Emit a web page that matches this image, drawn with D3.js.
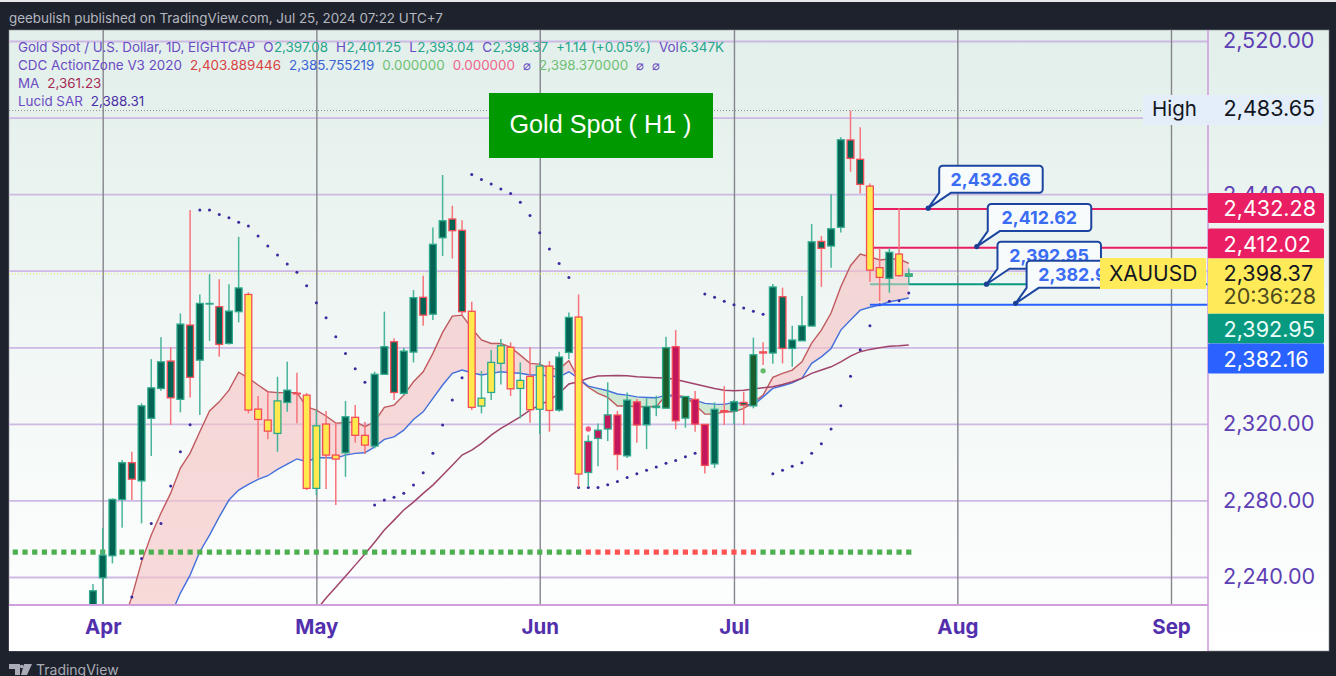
<!DOCTYPE html>
<html>
<head>
<meta charset="utf-8">
<title>Gold Spot</title>
<script src="https://cdn.jsdelivr.net/npm/d3@7"></script>
<style>
html, body { margin: 0; padding: 0; background: #1e222d; overflow: hidden; }
svg { display: block; font-family: Inter, "Noto Sans", sans-serif; }
</style>
</head>
<body>
<div id="chart"></div>
<script>
// bars run from firstBar (last days of March) to the Jul 24 bar
const firstBar = -1;
const opens = [2221.7,2239.6,2251.1,2280.5,2299.7,2290.2,2322.9,2338.5,2352.8,2332.8,2371.6,2353.3,2382.6,2381.2,2362.0,2378.6,
    2387.6,2327.7,2322.0,2315.0,2331.2,2336.0,2335.0,2286.3,2319.9,2303.7,2304.9,2323.4,2314.0,2308.4,2345.9,2362.9,
    2335.9,2357.5,2386.1,2377.3,2417.2,2427.0,2421.1,2378.8,2329.3,2336.4,2351.6,2360.0,2338.5,2344.8,2327.6,2350.2,
    2327.2,2357.3,2375.8,2294.6,2312.4,2317.3,2324.6,2303.3,2331.5,2319.5,2328.5,2328.2,2360.3,2323.0,2332.8,2319.7,
    2299.1,2326.9,2326.7,2331.2,2329.4,2357.6,2357.0,2386.4,2359.4,2363.4,2371.1,2415.3,2412.9,2422.7,2468.3,2458.2,
    2444.2,2401.6,2396.0,2408.7,2397.08];
const highs = [2236.3,2265.5,2281.1,2301.1,2305.4,2330.7,2353.8,2365.2,2360.0,2377.7,2431.7,2387.6,2398.2,2395.6,2392.9,2417.7,
    2388.7,2334.5,2336.8,2344.6,2352.4,2346.7,2336.1,2327.2,2326.7,2320.6,2332.0,2329.8,2321.1,2347.2,2378.6,2364.7,
    2359.8,2389.9,2397.4,2422.6,2450.0,2433.9,2426.4,2383.8,2347.6,2358.6,2364.3,2362.6,2352.1,2360.0,2352.1,2352.8,
    2357.7,2378.2,2387.6,2314.1,2320.2,2341.7,2326.8,2336.4,2333.0,2333.3,2334.7,2365.5,2369.0,2334.5,2337.1,2319.9,
    2331.2,2339.7,2332.4,2336.8,2365.0,2362.6,2393.0,2391.2,2371.2,2386.8,2424.4,2418.1,2439.9,2469.7,2483.65,2474.9,
    2445.6,2411.7,2411.7,2432.6,2401.25];
const lows = [2220.1,2212.2,2247.1,2265.7,2280.2,2268.0,2303.2,2337.3,2319.4,2326.0,2333.8,2324.6,2363.3,2355.0,2361.5,2373.0,
    2325.5,2291.8,2312.0,2305.4,2326.3,2320.3,2285.4,2282.8,2286.0,2277.6,2292.3,2310.1,2304.2,2307.2,2345.9,2332.4,
    2335.0,2352.1,2371.2,2374.2,2407.7,2406.4,2376.8,2327.2,2325.5,2332.4,2340.6,2334.5,2322.9,2320.6,2314.7,2315.9,
    2326.3,2353.9,2286.8,2287.1,2297.9,2311.0,2295.8,2302.1,2310.1,2306.8,2324.0,2328.2,2317.1,2318.0,2315.9,2294.1,
    2296.9,2319.4,2319.9,2319.4,2328.1,2350.7,2351.4,2351.6,2349.8,2363.4,2371.1,2391.6,2401.6,2420.0,2451.7,2440.4,
    2394.2,2384.1,2388.5,2396.9,2393.04];
const closes = [2232.8,2251.4,2280.5,2299.7,2291.1,2329.4,2338.8,2352.4,2333.6,2372.1,2344.3,2382.9,2382.9,2361.5,2378.9,2391.0,
    2327.2,2322.3,2316.2,2332.0,2337.6,2335.7,2286.3,2319.0,2303.7,2301.6,2323.7,2314.0,2308.9,2345.9,2360.3,2336.4,
    2358.0,2385.9,2376.8,2413.8,2426.1,2420.9,2378.6,2328.6,2333.4,2352.1,2360.8,2338.3,2342.7,2327.4,2350.2,2327.0,
    2354.9,2375.6,2293.8,2310.8,2316.7,2324.7,2304.0,2332.4,2319.4,2329.1,2329.3,2359.8,2321.6,2334.3,2319.9,2298.3,
    2327.6,2326.2,2331.5,2329.8,2356.1,2357.0,2391.5,2359.4,2363.8,2371.2,2415.1,2411.7,2421.9,2468.4,2458.7,2445.1,
    2400.3,2396.5,2409.6,2397.4,2398.37];
// action zone per bar: d teal, y yellow, c crimson, f forest, g light green
const zones = 'dddddddddddddddd yyyy dd yyyy d yy dddddddddd yyyyyyyyy dd y cccc d c dd f c f cc dddd f ddddddddddd yy d y g'.replace(/ /g, '').split('');

// fast and slow action zone lines start at bar 2
const zoneStart = 2;
const fastLine = [2214.9,2229.6,2247.9,2261.9,2273.4,2283.8,2296.9,2304.7,2315.9,2326.7,2331.5,2337.6,2347.0,2343.9,2340.3,2336.8,
    2336.3,2336.3,2336.3,2328.9,2327.2,2324.1,2320.4,2320.6,2321.1,2318.5,2321.1,2328.6,2329.8,2335.0,2342.0,2347.2,
    2356.8,2367.8,2376.3,2376.8,2369.9,2363.8,2362.0,2362.0,2360.0,2355.9,2351.6,2351.2,2349.0,2348.6,2353.0,2343.4,
    2339.1,2335.9,2333.8,2329.3,2329.3,2328.9,2328.9,2328.9,2335.0,2335.0,2334.1,2329.8,2325.1,2325.1,2326.3,2326.3,
    2328.1,2331.2,2335.0,2344.3,2346.4,2348.1,2352.4,2362.2,2369.0,2377.9,2391.6,2402.6,2408.7,2407.3,2405.6,2406.1,
    2406.1,2403.89];
const slowLine = [2155,2168,2181,2194,2207,2220.1,2231.6,2241.0,2253.2,2261.9,2271.4,2280.2,2285.4,2288.4,2291.0,2292.9,
    2296.2,2299.0,2301.7,2300.2,2302.3,2302.3,2302.1,2303.7,2304.6,2304.9,2308.0,2311.9,2313.2,2316.7,2322.3,2326.3,
    2333.3,2340.3,2346.4,2348.1,2346.7,2345.5,2346.4,2347.2,2346.7,2346.4,2345.5,2345.5,2345.0,2344.6,2347.2,2343.8,
    2339.7,2338.5,2337.3,2335.6,2335.0,2334.1,2333.8,2333.6,2335.0,2334.1,2333.8,2332.4,2330.7,2330.3,2330.2,2331.2,
    2330.3,2329.8,2334.1,2338.5,2339.9,2341.4,2343.8,2351.6,2355.0,2359.4,2369.0,2374.2,2379.4,2380.9,2382.0,2383.8,
    2384.7,2385.76];
const maStart = 22;
const maLine = [2222.7,2229.0,2234.7,2240.4,2246.2,2252.0,2258.2,2264.5,2269.7,2275.0,2279.1,2283.7,2288.0,2293.2,2298.4,2303.7,
    2306.3,2309.8,2314.1,2317.6,2320.6,2323.7,2327.2,2329.8,2332.4,2335.9,2340.8,2342.0,2343.8,2345.0,2345.1,2345.3,
    2345.1,2344.6,2344.3,2344.1,2343.9,2343.2,2342.0,2340.8,2339.7,2338.5,2337.6,2337.3,2337.6,2338.2,2338.8,2339.4,
    2340.6,2342.0,2343.8,2346.4,2348.1,2349.8,2352.4,2355.4,2357.7,2358.9,2359.7,2360.6,2360.8,2361.23];
const sarStart = 3;
const sarDots = [2229.6,2249.7,2268.0,2268.0,2287.5,2305.4,2319.5,2431.7,2431.7,2429.4,2427.7,2425.3,2423.3,2418.1,2412.9,2408.2,
    2403.5,2399.2,2392.1,2383.3,2375.4,2365.5,2356.8,2348.8,2341.7,2277.6,2280.2,2281.6,2283.7,2288.0,2294.4,2304.6,
    2319.4,2332.4,2344.1,2450.3,2447.7,2445.3,2442.7,2440.4,2435.7,2428.9,2419.8,2411.3,2403.8,2396.5,2286.8,2286.8,
    2286.8,2288.2,2289.9,2292.0,2293.9,2295.7,2297.4,2299.4,2300.9,2302.8,2304.6,2387.8,2386.1,2384.1,2382.2,2380.5,
    2378.8,2377.2,2293.9,2295.8,2297.8,2299.7,2304.7,2309.6,2317.3,2329.4,2344.9,2358.7,2371.2,2382.2,2384.0,2384.3,
    2388.31];

// status row below the chart: first/last bar of every colour run
const statusLevel = 2253;
const statusRuns = [[-9, 49, '#4caf50'], [50, 67, '#ff5252'], [68, 83, '#4caf50']];
const signalBars = [50, 68];
const signalPrices = [2317.3, 2347.7];
const signalColors = ['#f5527a', '#66bb6a'];

const priceTicks = [2240, 2280, 2320, 2360, 2400, 2440, 2480, 2520];
// these sit right under a price tag in the picture, only the grid line shows
const coveredTicks = [2360, 2400, 2480];
const monthBars = [0, 22, 45, 65, 88, 110];
const monthLabels = ['Apr', 'May', 'Jun', 'Jul', 'Aug', 'Sep'];

const levelPrices = [2432.28, 2412.02, 2392.95, 2382.16];
const levelColors = ['#e91e63', '#e91e63', '#089981', '#2962ff'];
const levelBars = [79, 79, 83, 79];
const calloutBars = [85, 90, 91, 94];
const calloutPrices = [2432.66, 2412.62, 2392.95, 2382.95];

const legendRows = [
    [['Gold Spot / U.S. Dollar, 1D, EIGHTCAP', '#6a4bc4'], ['O', '#6a4bc4'], ['2,397.08', '#26a58c'], ['H', '#6a4bc4'], ['2,401.25', '#26a58c'],
     ['L', '#6a4bc4'], ['2,393.04', '#26a58c'], ['C', '#6a4bc4'], ['2,398.37', '#26a58c'], ['+1.14 (+0.05%)', '#26a58c'], ['Vol', '#6a4bc4'], ['6.347K', '#26a58c']],
    [['CDC ActionZone V3 2020', '#6a4bc4'], ['2,403.889446', '#d9413f'], ['2,385.755219', '#3a63d8'], ['0.000000', '#6fbf73'], ['0.000000', '#f0648c'],
     ['\u2300', '#6a4bc4'], ['2,398.370000', '#6fbf73'], ['\u2300', '#6a4bc4'], ['\u2300', '#6a4bc4']],
    [['MA', '#6a4bc4'], ['2,361.23', '#a52a55']],
    [['Lucid SAR', '#6a4bc4'], ['2,388.31', '#4a2fa8']]
];

const width = 1336, height = 676;
const plot = {left: 9, top: 30, right: 1208, bottom: 605};
const panel = {right: 1329, bottom: 651};
const purple = '#5e3fb5';

const svg = d3.select('#chart').append('svg').attr('width', width).attr('height', height);
const defs = svg.append('defs');
const grad = defs.append('linearGradient').attr('id', 'bg').attr('x1', 0).attr('x2', 0).attr('y1', 0).attr('y2', 1);
grad.append('stop').attr('offset', '0%').attr('stop-color', '#e2efea');
grad.append('stop').attr('offset', '100%').attr('stop-color', '#ffffff');
defs.append('clipPath').attr('id', 'plotClip').append('rect')
    .attr('x', plot.left).attr('y', plot.top)
    .attr('width', plot.right - plot.left).attr('height', plot.bottom - plot.top);

const xScale = d3.scaleLinear().domain([0, 110]).range([102.7, 1171]);
const yScale = d3.scaleLinear().domain([2240, 2520]).range([577, 41]);

// frame
svg.append('rect').attr('width', width).attr('height', height).attr('fill', '#1e222d');
svg.append('rect').attr('width', width).attr('height', 2).attr('fill', '#e8e8ea');
svg.append('rect').attr('x', plot.left).attr('y', plot.top)
    .attr('width', panel.right - plot.left).attr('height', panel.bottom - plot.top)
    .attr('fill', 'url(#bg)').attr('stroke', '#8a8d94').attr('stroke-width', 0.6);
svg.append('rect').attr('x', plot.left).attr('y', plot.bottom)
    .attr('width', plot.right - plot.left).attr('height', panel.bottom - plot.bottom).attr('fill', '#fff');
svg.append('text').attr('x', 9).attr('y', 23).attr('font-size', 13.4).attr('fill', '#b4b7bf')
    .text('geebulish published on TradingView.com, Jul 25, 2024 07:22 UTC+7');
svg.append('path').attr('fill', '#a9acb5').attr('d', 'M9 664h11v11h-5v-6h-6zM24 664h8l-5 11h-6z');
svg.append('circle').attr('cx', 21.7).attr('cy', 666.5).attr('r', 1.8).attr('fill', '#a9acb5');
svg.append('text').attr('x', 36).attr('y', 675).attr('font-size', 14).attr('fill', '#a9acb5').text('TradingView');

// grid comes from the two axes, labels go with them
const yAxisG = svg.append('g').attr('class', 'y-axis').attr('transform', `translate(${plot.right}, 0)`)
    .call(d3.axisRight(yScale).tickValues(priceTicks).tickSizeInner(plot.left - plot.right).tickSizeOuter(0)
        .tickFormat(d => coveredTicks.includes(d) ? '' : d3.format(',.2f')(d)));
yAxisG.select('.domain').remove();
yAxisG.selectAll('.tick line').attr('stroke', '#cdb9e4').attr('stroke-width', 1.8);
yAxisG.selectAll('.tick text').attr('x', 15).attr('font-size', 21.6).attr('font-family', 'Inter').attr('fill', purple);

const xAxisG = svg.append('g').attr('class', 'x-axis').attr('transform', `translate(0, ${plot.bottom})`)
    .call(d3.axisBottom(xScale).tickValues(monthBars).tickSizeInner(plot.top - plot.bottom).tickSizeOuter(0)
        .tickPadding(0).tickFormat((d, i) => monthLabels[i]));
xAxisG.select('.domain').remove();
xAxisG.selectAll('.tick line').attr('stroke', '#85858c').attr('stroke-width', 1.4);
xAxisG.selectAll('.tick text').attr('y', 29).attr('dy', 0).attr('font-size', 20.5).attr('font-weight', 700)
    .attr('font-family', 'Inter').attr('fill', '#5230ad');

const chart = svg.append('g').attr('clip-path', 'url(#plotClip)');

// dotted lines for session high and last price
chart.append('line').attr('x1', plot.left).attr('x2', 1143)
    .attr('y1', yScale(2483.65)).attr('y2', yScale(2483.65))
    .attr('stroke', '#8d8d8d').attr('stroke-width', 1).attr('stroke-dasharray', '1 2');
chart.append('line').attr('x1', plot.left).attr('x2', plot.right)
    .attr('y1', yScale(closes[closes.length - 1])).attr('y2', yScale(closes[closes.length - 1]))
    .attr('stroke', '#e9e35c').attr('stroke-width', 1).attr('stroke-dasharray', '1 2');

// action zone band
const zoneData = fastLine.map((d, i) => ({bar: zoneStart + i, fast: d, slow: slowLine[i]}));
const band = which => d3.area().x(d => xScale(d.bar)).y0(d => yScale(d.slow))
    .y1(d => yScale(which(d.fast, d.slow)));
chart.append('path').attr('d', band(Math.max)(zoneData)).attr('fill', '#f6c4c4').attr('fill-opacity', 0.62);
chart.append('path').attr('d', band(Math.min)(zoneData)).attr('fill', '#a8d8ae').attr('fill-opacity', 0.5);

const line = d3.line().x(d => xScale(d.bar)).y(d => yScale(d.value));
chart.append('path').attr('d', line(zoneData.map(d => ({bar: d.bar, value: d.fast}))))
    .attr('fill', 'none').attr('stroke', '#c05a5f').attr('stroke-width', 1.4);
chart.append('path').attr('d', line(zoneData.map(d => ({bar: d.bar, value: d.slow}))))
    .attr('fill', 'none').attr('stroke', '#4470dc').attr('stroke-width', 1.4);
chart.append('path').attr('d', line(maLine.map((d, i) => ({bar: maStart + i, value: d}))))
    .attr('fill', 'none').attr('stroke', '#a0446c').attr('stroke-width', 1.5);

// status row
statusRuns.forEach(run => {
    chart.append('g').selectAll('rect').data(d3.range(run[0], run[1] + 1)).join('rect')
        .attr('x', d => xScale(d) - 2.6).attr('y', yScale(statusLevel) - 2.6)
        .attr('width', 5.2).attr('height', 5.2).attr('fill', run[2]);
});

// SAR dots and signals
chart.append('g').selectAll('circle').data(sarDots).join('circle')
    .attr('cx', (d, i) => xScale(sarStart + i)).attr('cy', d => yScale(d)).attr('r', 1.5).attr('fill', '#3a2a9e');
chart.append('g').selectAll('circle').data(signalPrices).join('circle')
    .attr('cx', (d, i) => xScale(signalBars[i])).attr('cy', d => yScale(d)).attr('r', 2.7)
    .attr('fill', (d, i) => signalColors[i]);

// level lines, the green one is paler under the last candles
chart.append('line').attr('x1', xScale(79)).attr('x2', xScale(83))
    .attr('y1', yScale(levelPrices[2])).attr('y2', yScale(levelPrices[2]))
    .attr('stroke', '#7fbfae').attr('stroke-width', 2);
chart.selectAll('.level').data(levelPrices).join('line').attr('class', 'level')
    .attr('x1', (d, i) => xScale(levelBars[i]))
    .attr('x2', plot.right)
    .attr('y1', d => yScale(d)).attr('y2', d => yScale(d))
    .attr('stroke', (d, i) => levelColors[i]).attr('stroke-width', 2);

// candles
const fillOf = {d: '#056353', y: '#ffe94d', c: '#c2185b', f: '#1b5e2b', g: '#5cb85c'};
const candles = chart.append('g').selectAll('g').data(opens.map((o, i) => ({
    bar: firstBar + i, o: o, h: highs[i], l: lows[i], c: closes[i], zone: zones[i]
}))).join('g').attr('transform', d => `translate(${xScale(d.bar)}, 0)`);
candles.append('line').attr('y1', d => yScale(d.h)).attr('y2', d => yScale(d.l))
    .attr('stroke', d => d.c >= d.o ? '#48b49a' : '#f8747a').attr('stroke-width', 1.5);
candles.append('rect').attr('x', -3.4).attr('width', 6.8)
    .attr('y', d => yScale(Math.max(d.o, d.c)))
    .attr('height', d => Math.max(0.6, Math.abs(yScale(d.o) - yScale(d.c))))
    .attr('fill', d => fillOf[d.zone])
    .attr('stroke', d => d.c >= d.o ? '#2fa98c' : '#f44d58').attr('stroke-width', 1.3);

// axis borders
svg.append('line').attr('x1', plot.left).attr('x2', plot.right).attr('y1', plot.bottom).attr('y2', plot.bottom)
    .attr('stroke', '#cf9fdc').attr('stroke-width', 2);
svg.append('line').attr('x1', plot.right).attr('x2', plot.right).attr('y1', plot.top).attr('y2', panel.bottom)
    .attr('stroke', '#cf9fdc').attr('stroke-width', 1.6);

// legend
const legend = svg.append('g');
legendRows.forEach((row, r) => {
    const text = legend.append('text').attr('x', 18).attr('y', 51.5 + r * 18).attr('font-size', 13.4);
    row.forEach((part, k) => {
        const glued = part[1] !== '#6a4bc4' && row[k - 1] && /^([OHLC]|Vol)$/.test(row[k - 1][0]);
        text.append('tspan').attr('dx', k === 0 ? 0 : (glued ? 0.5 : 8)).attr('fill', part[1]).text(part[0]);
    });
});

// title box
svg.append('rect').attr('x', 489).attr('y', 93).attr('width', 224).attr('height', 65).attr('fill', '#009900');
svg.append('text').attr('x', 600.5).attr('y', 133).attr('text-anchor', 'middle').attr('font-size', 25.2)
    .attr('font-family', 'Liberation Sans').attr('fill', '#fff').text('Gold Spot ( H1 )');

// callouts, each box sits up and right of its anchor dot
const callouts = svg.append('g').selectAll('g').data(calloutPrices).join('g')
    .attr('transform', (d, i) => `translate(${xScale(calloutBars[i])}, ${yScale(d)})`);
callouts.append('path')
    .attr('d', 'M0 0L11 -15.5V-39a3.5 3.5 0 0 1 3.5 -3.5H111a3.5 3.5 0 0 1 3.5 3.5V-19a3.5 3.5 0 0 1 -3.5 3.5H23Z')
    .attr('fill', '#f7fbfc').attr('stroke', '#1c45a0').attr('stroke-width', 2).attr('stroke-linejoin', 'round');
callouts.append('circle').attr('r', 2.6).attr('fill', '#1c3f94');
callouts.append('text').attr('x', 62.5).attr('y', -22.5).attr('text-anchor', 'middle')
    .attr('font-size', 17.8).attr('font-weight', 700).attr('fill', '#3a6cf4')
    .text(d => d3.format(',.2f')(d));

// right hand labels, tags are stacked so they do not sit on the exact price
const labels = svg.append('g');
const priceLabel = (price, top, color, textColor) => {
    labels.append('rect').attr('x', plot.right).attr('y', top).attr('width', 116).attr('height', 30).attr('rx', 1.5).attr('fill', color);
    labels.append('text').attr('x', 1223.5).attr('y', top + 23).attr('font-size', 21.6).attr('fill', textColor).text(d3.format(',.2f')(price));
};

// High tag
labels.append('rect').attr('x', 1143).attr('y', 95).attr('width', 180).attr('height', 30).attr('fill', '#e3eefa');
labels.append('text').attr('x', 1152).attr('y', 116).attr('font-size', 20.5).attr('fill', '#131722').text('High');
labels.append('text').attr('x', 1223.5).attr('y', 116).attr('font-size', 21.6).attr('fill', '#131722').text('2,483.65');

priceLabel(levelPrices[0], 193, levelColors[0], '#fff');
priceLabel(levelPrices[1], 228.5, levelColors[1], '#fff');
priceLabel(levelPrices[2], 313.5, levelColors[2], '#eafff8');
priceLabel(levelPrices[3], 343.5, levelColors[3], '#fff');

// last price tag with countdown
labels.append('rect').attr('x', 1100).attr('y', 258).attr('width', 106).attr('height', 31).attr('fill', '#ffeb5a');
labels.append('text').attr('x', 1109).attr('y', 281).attr('font-size', 21).attr('fill', '#131722').text('XAUUSD');
labels.append('rect').attr('x', plot.right).attr('y', 258.5).attr('width', 116).attr('height', 55).attr('fill', '#ffeb5a');
labels.append('text').attr('x', 1223.5).attr('y', 281).attr('font-size', 21.6).attr('fill', '#131722').text('2,398.37');
labels.append('text').attr('x', 1223.5).attr('y', 304).attr('font-size', 21.6).attr('fill', '#4d4a1e').text('20:36:28');
</script>
</body>
</html>
